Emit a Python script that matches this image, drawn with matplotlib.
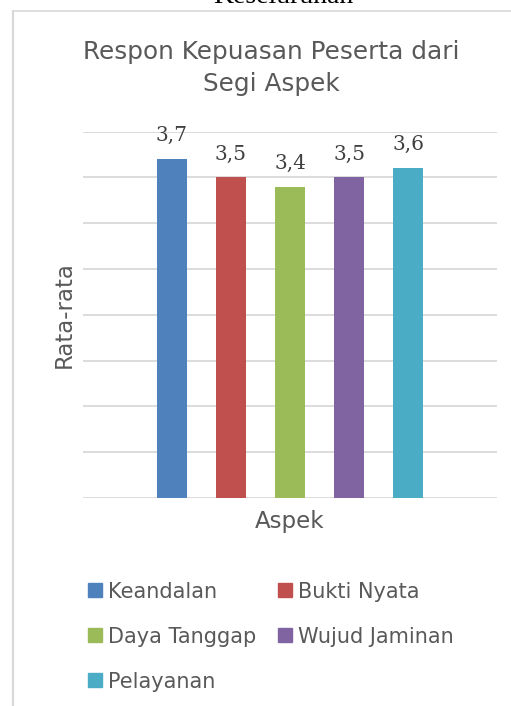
import matplotlib
matplotlib.use('Agg')
import matplotlib.pyplot as plt
from matplotlib.lines import Line2D
from matplotlib.patches import Rectangle


# data
aspek = ['Keandalan', 'Bukti Nyata', 'Daya Tanggap', 'Wujud Jaminan', 'Pelayanan']
nilai = [3.7, 3.5, 3.4, 3.5, 3.6]
label_nilai = ['3,7', '3,5', '3,4', '3,5', '3,6']
warna = ['#4F81BD', '#C0504D', '#9BBB59', '#8064A2', '#4BACC6']

W, H = 511, 706
fig = plt.figure(figsize=(W / 100, H / 100), dpi=100)


def fx(px):
    return px / W


def fy(py):
    return 1 - py / H


# chart border (top + left) and clipped caption above
fig.add_artist(Line2D([fx(13), 1], [fy(11), fy(11)], color='#d9d9d9', lw=1.2))
fig.add_artist(Line2D([fx(13), fx(13)], [fy(11), 0], color='#d9d9d9', lw=1.6))
fig.text(fx(283), fy(3), 'Keseluruhan', ha='center', va='baseline',
         family='Liberation Serif', fontsize=20, color='#000000')

# plot area
ax = fig.add_axes([fx(83), fy(498), fx(497) - fx(83), fy(131.7) - fy(498)])
x = range(len(nilai))
ax.bar(x, nilai, width=0.51, color=warna, zorder=3)
ax.set_xlim(-1.5, 5.5)
ax.set_ylim(0, 4)
ax.set_yticks([i * 0.5 for i in range(9)])
ax.grid(axis='y', color='#d9d9d9', lw=1.3, zorder=0)
ax.tick_params(left=False, bottom=False, labelleft=False, labelbottom=False)
for s in ax.spines.values():
    s.set_visible(False)

for xi, v, lab in zip(x, nilai, label_nilai):
    ax.annotate(lab, (xi, v), xytext=(0, 14), textcoords='offset pixels',
                ha='center', va='bottom', fontsize=14.5,
                family='DejaVu Serif', color='#404040')

# titles
fig.text(fx(271), fy(59), 'Respon Kepuasan Peserta dari', ha='center',
         va='baseline', fontsize=17.8, color='#595959')
fig.text(fx(271), fy(91), 'Segi Aspek', ha='center',
         va='baseline', fontsize=17.8, color='#595959')
fig.text(fx(64), fy(315), 'Rata-rata', rotation=90, ha='center', va='center',
         fontsize=16.5, color='#595959')
fig.text(fx(290), fy(528), 'Aspek', ha='center', va='baseline',
         fontsize=16.5, color='#595959')

# legend (row-wise, 2 columns)
for i, (nama, c) in enumerate(zip(aspek, warna)):
    row, col = i // 2, i % 2
    x0 = 88 + col * 190
    yc = 590 + row * 45
    fig.add_artist(Rectangle((fx(x0), fy(yc + 7)), fx(14), 14 / H,
                             color=c, transform=fig.transFigure))
    fig.text(fx(x0 + 20), fy(yc + 8), nama, ha='left', va='baseline',
             fontsize=15, color='#595959')

fig.savefig('out.png', dpi=100)
